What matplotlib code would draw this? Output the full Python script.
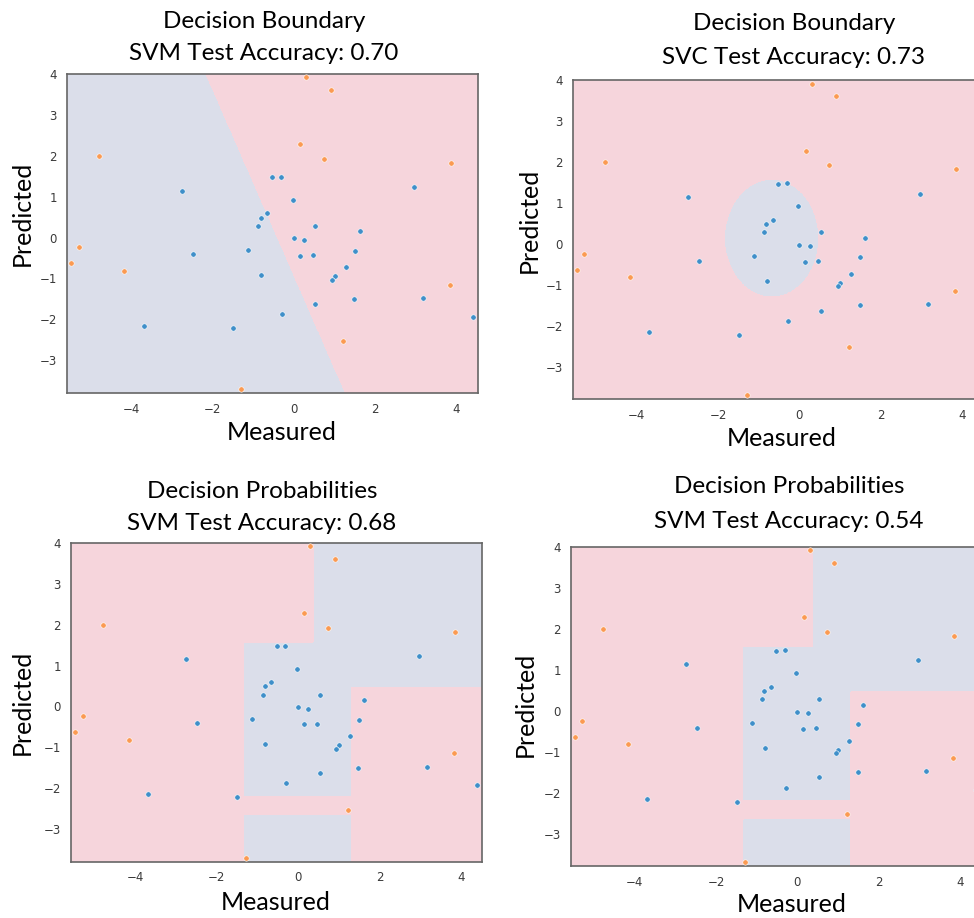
"""Decision boundary / probability panels for the measured vs predicted classifier comparison."""
import numpy as np
import matplotlib
matplotlib.use("Agg")
import matplotlib.pyplot as plt

# Scatter data
blue_x = [-0.53, -0.31, -2.74, -0.03, 2.96, -0.66, -0.81, -0.87, 0.53, 1.62,
          0.00, 0.25, -1.12, -2.48, 0.15, 0.47, 1.50, 1.28, 1.01, 0.94,
          -0.80, 3.17, 1.48, 0.53, -0.29, -3.69, -1.49, 4.40]
blue_y = [1.47, 1.49, 1.15, 0.92, 1.23, 0.59, 0.49, 0.28, 0.29, 0.15,
          -0.02, -0.06, -0.30, -0.41, -0.44, -0.43, -0.33, -0.73, -0.95, -1.04,
          -0.91, -1.48, -1.50, -1.63, -1.88, -2.15, -2.22, -1.93]
orange_x = [0.30, 0.91, 0.155, 0.74, -4.78, 3.86, -5.29, -5.48, -4.16, 3.83, 1.22, -1.29]
orange_y = [3.92, 3.62, 2.28, 1.93, 2.00, 1.83, -0.24, -0.63, -0.82, -1.15, -2.53, -3.70]

titles = ["Decision Boundary\nSVM Test Accuracy: 0.70",
          "Decision Boundary\nSVC Test Accuracy: 0.73",
          "Decision Probabilities\nSVM Test Accuracy: 0.68",
          "Decision Probabilities\nSVM Test Accuracy: 0.54"]

# linear boundary: passes through (x_top, 4) and (x_bottom, -3.8)
line_x_top = -2.155
line_x_bottom = 1.27
# rbf boundary: ellipse centre / half axes
ellipse_center = [-0.68, 0.14]
ellipse_radii = [1.16, 1.44]
# tree-like partition thresholds
tree_x_splits = [-1.34, 0.37, 1.31]
tree_y_splits = [-2.64, -2.19, 0.46, 1.57]

x_ticks = [-4, -2, 0, 2, 4]
y_ticks = [-3, -2, -1, 0, 1, 2, 3, 4]
x_lim = (-5.58, 4.52)
y_lim = (-3.8, 4.0)

BLUE_BG = "#dbdeea"
PINK_BG = "#f6d5dc"
BLUE_PT = "#3f8fc9"
ORANGE_PT = "#fb9a52"
TEXT_FONT = ["Lato", "DejaVu Sans"]


def linear_region(xx, yy):
    xl = line_x_top + (y_lim[1] - yy) * (line_x_bottom - line_x_top) / (y_lim[1] - y_lim[0])
    return (xx > xl).astype(float)  # 1 = pink


def ellipse_region(xx, yy):
    r = ((xx - ellipse_center[0]) / ellipse_radii[0]) ** 2 + ((yy - ellipse_center[1]) / ellipse_radii[1]) ** 2
    return (r > 1).astype(float)


def tree_region(xx, yy):
    x0, x1, x2 = tree_x_splits
    y0, y1, y2, y3 = tree_y_splits
    blue = ((xx >= x0) & (xx <= x2) & (yy >= y1) & (yy <= y3))
    blue |= ((xx >= x1) & (yy >= y2))
    blue |= ((xx >= x0) & (xx <= x2) & (yy <= y0))
    return (~blue).astype(float)


def draw_panel(ax, region_fn):
    xx, yy = np.meshgrid(np.linspace(x_lim[0], x_lim[1], 800),
                         np.linspace(y_lim[0], y_lim[1], 800))
    zz = region_fn(xx, yy)
    ax.contourf(xx, yy, zz, levels=[-0.5, 0.5, 1.5], colors=[BLUE_BG, PINK_BG])
    ax.scatter(blue_x, blue_y, s=15, color=BLUE_PT, edgecolor="white", linewidth=0.4, zorder=3)
    ax.scatter(orange_x, orange_y, s=15, color=ORANGE_PT, edgecolor="white", linewidth=0.4, zorder=3)
    ax.set_xlim(*x_lim)
    ax.set_ylim(*y_lim)
    ax.set_xticks(x_ticks)
    ax.set_yticks(y_ticks)
    ax.tick_params(length=0, labelsize=8.5, labelcolor="#3a3a3a", pad=7)
    for sp in ax.spines.values():
        sp.set_color("#666666")
        sp.set_linewidth(1.2)


fig = plt.figure(figsize=(9.74, 9.18), dpi=100)
W, H = 974.0, 918.0

# axes boxes in pixels: left, top, right, bottom
boxes = [(66.7, 74.0, 477.7, 393.0),
         (572.7, 80.3, 983.0, 399.3),
         (70.7, 543.0, 482.3, 861.7),
         (570.7, 547.0, 981.0, 866.3)]
regions = [linear_region, ellipse_region, tree_region, tree_region]

# text anchors in pixels: title centre x, title line1 y, line2 y, xlabel (x, y), ylabel (x, y)
title_pos = [(264, 21, 53), (794, 23, 57), (262, 491, 524), (789, 487, 521)]
xlabel_pos = [(282, 433), (782, 438), (276, 902), (792, 904)]
ylabel_pos = [(22, 213), (529, 220), (22, 702), (525, 704)]

for i in range(4):
    l, t, r, b = boxes[i]
    ax = fig.add_axes([l / W, 1 - b / H, (r - l) / W, (b - t) / H])
    draw_panel(ax, regions[i])

    tx, ty1, ty2 = title_pos[i]
    line1, line2 = titles[i].split("\n")
    fig.text(tx / W, 1 - ty1 / H, line1, ha="center", va="center", fontsize=17.5, family=TEXT_FONT)
    fig.text(tx / W, 1 - ty2 / H, line2, ha="center", va="center", fontsize=17.5, family=TEXT_FONT)
    fig.text(xlabel_pos[i][0] / W, 1 - xlabel_pos[i][1] / H, "Measured",
             ha="center", va="center", fontsize=18, family=TEXT_FONT)
    fig.text(ylabel_pos[i][0] / W, 1 - ylabel_pos[i][1] / H, "Predicted",
             ha="center", va="center", fontsize=18, rotation=90, family=TEXT_FONT)

fig.savefig("out.png", dpi=100)
